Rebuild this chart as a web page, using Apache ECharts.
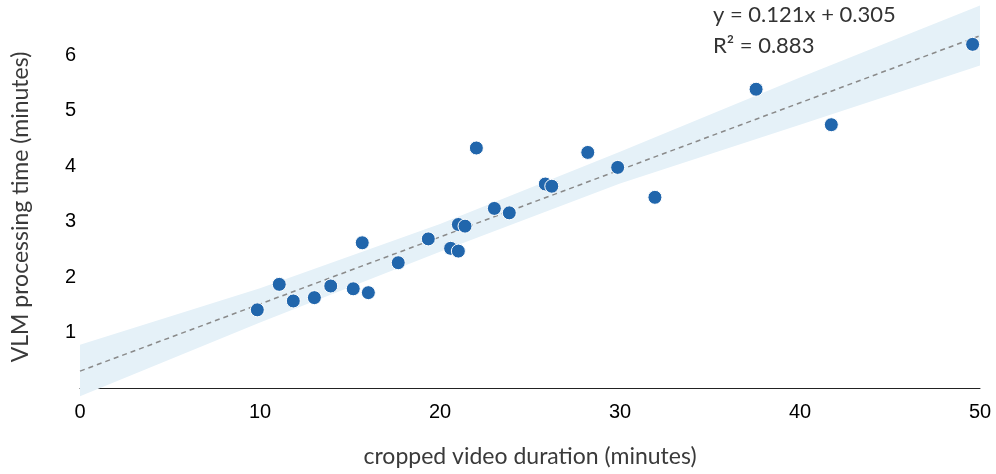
<!DOCTYPE html>
<html>
<head>
<meta charset="utf-8">
<title>VLM processing time</title>
<script src="https://cdn.jsdelivr.net/npm/echarts@6/dist/echarts.min.js"></script>
<style>
    html, body { margin: 0; padding: 0; background: #fff; }
    #chart-container { width: 996px; height: 474px; }
</style>
</head>
<body>
<div id="chart-container"></div>
<script>
// data
var durationMin = [9.85, 11.07, 11.85, 13.02, 13.93, 15.18, 16.02, 15.68, 17.68, 19.35, 20.59, 21.02, 21.02, 21.39, 22.02, 23.02, 23.85, 25.85, 26.21, 28.21, 29.87, 31.94, 37.56, 41.74, 49.59];
var processingMin = [1.41, 1.87, 1.57, 1.63, 1.84, 1.79, 1.72, 2.62, 2.26, 2.69, 2.52, 2.47, 2.95, 2.92, 4.33, 3.24, 3.16, 3.68, 3.64, 4.25, 3.98, 3.44, 5.39, 4.75, 6.20];

// fit line ends (y = 0.121x + 0.305)
var fitX = [0, 50];
var fitY = [0.305, 6.355];

// confidence band edges
var bandX = [0, 10, 20, 30, 40, 50];
var bandUpper = [0.78, 1.80, 2.96, 4.26, 5.60, 6.90];
var bandLower = [-0.15, 1.18, 2.46, 3.69, 4.75, 5.82];

var xTicks = [0, 10, 20, 30, 40, 50];
var yTicks = [1, 2, 3, 4, 5, 6];

var fitText = ['y = 0.121x + 0.305', 'R\u00b2 = 0.883'];
var yTitle = 'VLM processing time (minutes)';

ScatterChartCreator('chart-container');

function ScatterChartCreator(ChartId) {

    var dom = document.getElementById(ChartId);
    var myChart = echarts.init(dom, null, { renderer: 'canvas' });

    var points = durationMin.map(function (x, i) { return [x, processingMin[i]]; });
    var fitLine = fitX.map(function (x, i) { return [x, fitY[i]]; });
    var bandPoints = bandX.map(function (x, i) { return [x, bandUpper[i]]; })
        .concat(bandX.map(function (x, i) { return [x, bandLower[i]]; }).reverse());

    var tickFont = { color: '#000', fontSize: 20, fontFamily: 'Liberation Sans' };
    var titleFont = { color: '#3a3a3a', fontSize: 23, fontFamily: 'Lato' };

    var option = {
        animation: false,
        grid: { left: 80, right: 16, top: 0, bottom: 86 },
        xAxis: {
            type: 'value',
            min: xTicks[0],
            max: xTicks[xTicks.length - 1],
            interval: 10,
            name: 'cropped video duration (minutes)',
            nameLocation: 'middle',
            nameGap: 57,
            nameTextStyle: titleFont,
            axisLine: { onZero: true, lineStyle: { color: '#222', width: 1 } },
            axisTick: { show: false },
            splitLine: { show: false },
            axisLabel: Object.assign({ margin: 14 }, tickFont)
        },
        yAxis: {
            type: 'value',
            min: 0,
            max: 7,
            interval: 1,
            axisLine: { show: false },
            axisTick: { show: false },
            splitLine: { show: false },
            axisLabel: Object.assign({
                margin: 4,
                formatter: function (v) { return yTicks.indexOf(v) >= 0 ? String(v) : ''; }
            }, tickFont)
        },
        graphic: [
            {
                type: 'text', x: 21, y: 207, rotation: Math.PI / 2,
                style: { text: yTitle, fill: '#3a3a3a', font: '23px Lato', align: 'center', verticalAlign: 'middle' }
            },
            { type: 'text', left: 713, top: 4, style: { text: fitText[0], fill: '#333', font: '22px Lato' } },
            { type: 'text', left: 713, top: 35, style: { text: fitText[1], fill: '#333', font: '22px Lato' } }
        ],
        series: [
            {
                type: 'custom',
                clip: false,
                z: 1,
                data: [0],
                renderItem: function (params, api) {
                    return {
                        type: 'polygon',
                        shape: { points: bandPoints.map(function (p) { return api.coord(p); }) },
                        style: { fill: '#e5f1f8' }
                    };
                }
            },
            {
                type: 'line',
                z: 2,
                data: fitLine,
                symbol: 'none',
                lineStyle: { color: '#8a8a8a', width: 1.5, type: [5, 4] }
            },
            {
                type: 'scatter',
                z: 3,
                data: points,
                symbolSize: 14,
                itemStyle: { color: '#2166ac', borderColor: '#fff', borderWidth: 1, opacity: 1 }
            }
        ]
    };

    myChart.setOption(option);
    window.addEventListener('resize', myChart.resize);
}
</script>
</body>
</html>
